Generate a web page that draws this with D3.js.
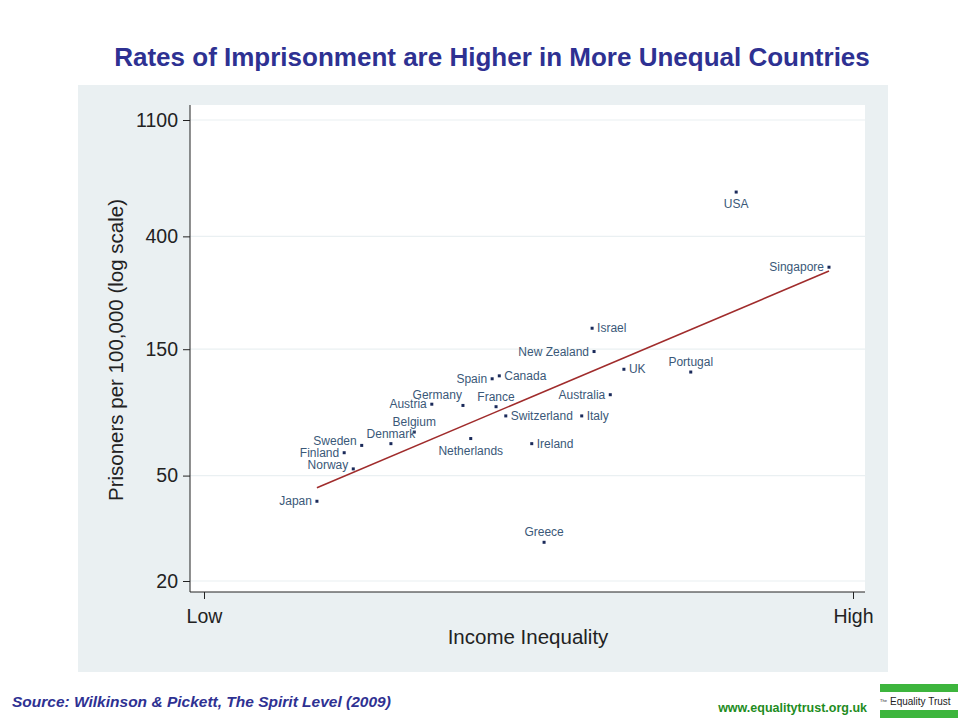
<!DOCTYPE html>
<html>
<head>
<meta charset="utf-8">
<script src="https://cdn.jsdelivr.net/npm/d3@7"></script>
<style>
  body { margin: 0; background: #fff; }
  svg { display: block; font-family: Arial, "Liberation Sans", sans-serif; }
</style>
</head>
<body>
<div id="chart"></div>
<script>
const COUNTRIES = ["Japan", "Finland", "Norway", "Sweden", "Denmark", "Belgium", "Austria", "Germany",
  "Netherlands", "France", "Switzerland", "Spain", "Canada", "Ireland", "Greece", "Israel",
  "New Zealand", "Australia", "Italy", "UK", "Portugal", "USA", "Singapore"];
// inequality on an arbitrary 0 (Low) .. 100 (High) scale
const INEQUALITY = [17.4, 21.6, 23.0, 24.3, 28.8, 32.4, 35.1, 39.9, 41.1, 45.0, 46.5, 44.4, 45.5,
  50.5, 52.4, 59.8, 60.1, 62.6, 58.2, 64.7, 75.0, 82.0, 96.3];
const PRISONERS = [40, 61, 53, 65, 66, 73, 93, 92, 69, 91, 84, 116, 119, 66, 28, 180, 147, 101, 84,
  126, 123, 588, 306];
// marker label clock position
const LABEL_POS = [9, 9, 10, 10, 12, 12, 9, 11, 6, 12, 3, 9, 3, 3, 12, 3, 9, 9, 3, 3, 12, 6, 9];
const Y_TICKS = [20, 50, 150, 400, 1100];
const X_TICKS = [0, 100];
const X_TICK_LABELS = ["Low", "High"];
const FIT_X = [17.4, 96.3];
const FIT_Y = [45, 296];

const width = 960, height = 720;
const svg = d3.select("#chart").append("svg").attr("width", width).attr("height", height);

svg.append("text").attr("x", 492).attr("y", 66).attr("text-anchor", "middle")
  .attr("font-size", 26).attr("font-weight", "bold").attr("fill", "#2E3192")
  .text("Rates of Imprisonment are Higher in More Unequal Countries");

svg.append("rect").attr("x", 78).attr("y", 85).attr("width", 810).attr("height", 587).attr("fill", "#EAF0F2");
const plot = { left: 190, right: 865, top: 105, bottom: 592 };
svg.append("rect").attr("x", plot.left).attr("y", plot.top)
  .attr("width", plot.right - plot.left).attr("height", plot.bottom - plot.top).attr("fill", "#fff");

const x = d3.scaleLinear().domain([0, 100]).range([204, 853]);
const y = d3.scaleLog().domain([20, 1100]).range([581, 120]);

// gridlines
svg.append("g").selectAll("line").data(Y_TICKS).join("line")
  .attr("x1", plot.left).attr("x2", plot.right).attr("y1", y).attr("y2", y)
  .attr("stroke", "#EAF0F2").attr("stroke-width", 1.2);

const yAxis = svg.append("g").attr("transform", `translate(${plot.left},0)`)
  .call(d3.axisLeft(y).tickValues(Y_TICKS).tickFormat(d3.format("d")).tickSize(7).tickPadding(5).tickSizeOuter(0));
yAxis.select(".domain").attr("d", `M0,${plot.top}V${plot.bottom}`);
const xAxis = svg.append("g").attr("transform", `translate(0,${plot.bottom})`)
  .call(d3.axisBottom(x).tickValues(X_TICKS).tickFormat((d, i) => X_TICK_LABELS[i]).tickSize(7).tickPadding(10).tickSizeOuter(0));
xAxis.select(".domain").attr("d", `M${plot.left},0H${plot.right}`);
[yAxis, xAxis].forEach((a) => {
  a.selectAll("text").attr("font-size", 19.5).attr("fill", "#222").attr("font-family", "Arial, 'Liberation Sans', sans-serif");
  a.selectAll("line,path").attr("stroke", "#222");
});

svg.append("text").attr("x", 528).attr("y", 644).attr("text-anchor", "middle")
  .attr("font-size", 20.5).attr("fill", "#222").text("Income Inequality");
svg.append("text").attr("transform", "translate(123,350) rotate(-90)").attr("text-anchor", "middle")
  .attr("font-size", 20.5).attr("fill", "#222").text("Prisoners per 100,000 (log scale)");

// fit line
svg.append("line").attr("x1", x(FIT_X[0])).attr("y1", y(FIT_Y[0]))
  .attr("x2", x(FIT_X[1])).attr("y2", y(FIT_Y[1])).attr("stroke", "#A02C2C").attr("stroke-width", 1.6);

const pts = COUNTRIES.map((c, i) => ({ c, x: INEQUALITY[i], y: PRISONERS[i], pos: LABEL_POS[i] }));
svg.append("g").selectAll("rect").data(pts).join("rect")
  .attr("x", (d) => x(d.x) - 1.5).attr("y", (d) => y(d.y) - 1.5)
  .attr("width", 3).attr("height", 3).attr("fill", "#1A2A5A");

const offsets = {
  3: [5, 4, "start"], 9: [-5, 4, "end"], 12: [0, -6, "middle"], 6: [0, 16, "middle"],
  10: [-5, 0, "end"], 11: [-1, -6, "end"],
};
svg.append("g").selectAll("text").data(pts).join("text")
  .attr("x", (d) => x(d.x) + offsets[d.pos][0]).attr("y", (d) => y(d.y) + offsets[d.pos][1])
  .attr("text-anchor", (d) => offsets[d.pos][2])
  .attr("font-size", 12).attr("fill", "#3A5878").text((d) => d.c);

svg.append("text").attr("x", 12).attr("y", 707).attr("font-size", 15.5).attr("font-style", "italic")
  .attr("font-weight", "bold").attr("fill", "#2E3192").text("Source: Wilkinson & Pickett, The Spirit Level (2009)");
svg.append("text").attr("x", 867).attr("y", 712).attr("text-anchor", "end").attr("font-size", 12.5)
  .attr("font-weight", "bold").attr("fill", "#1E8C1E").text("www.equalitytrust.org.uk");

svg.append("rect").attr("x", 880).attr("y", 684).attr("width", 78).attr("height", 8).attr("fill", "#3DB53D");
svg.append("rect").attr("x", 880).attr("y", 710).attr("width", 78).attr("height", 8).attr("fill", "#3DB53D");
svg.append("text").attr("x", 880).attr("y", 702).attr("font-size", 4).attr("fill", "#222").text("The");
svg.append("text").attr("x", 890).attr("y", 705).attr("font-size", 10).attr("fill", "#222").text("Equality Trust");
</script>
</body>
</html>
